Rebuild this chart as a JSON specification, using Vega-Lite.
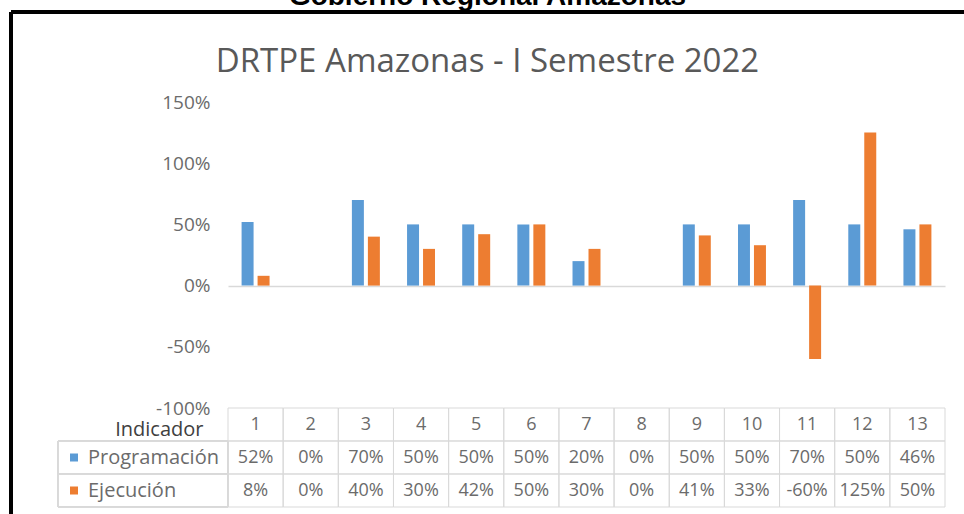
{
  "$schema": "https://vega.github.io/schema/vega-lite/v6.json",
  "width": 953,
  "height": 502,
  "autosize": {"type": "none"},
  "padding": {"left": 11, "top": 12, "right": 0, "bottom": 0},
  "background": "white",
  "title": {
    "text": "Gobierno Regional Amazonas",
    "subtitle": "DRTPE Amazonas - I Semestre 2022",
    "anchor": "middle",
    "frame": "group",
    "font": "Liberation Sans",
    "fontSize": 28,
    "fontWeight": "bold",
    "color": "#000000",
    "subtitleFont": "Open Sans",
    "subtitleFontSize": 33,
    "subtitleColor": "#595959",
    "subtitlePadding": 35,
    "offset": -67
  },
  "config": {
    "view": {"stroke": "#000000", "strokeWidth": 4, "strokeDash": [953, 1455, 502, 0]},
    "locale": {"number": {"decimal": ".", "thousands": ",", "grouping": [3], "currency": ["$", ""], "minus": "-"}},
    "font": "Open Sans"
  },
  "datasets": {
    "d": [
      {"ind": "1", "serie": "Programación", "val": 0.52},
      {"ind": "2", "serie": "Programación", "val": 0},
      {"ind": "3", "serie": "Programación", "val": 0.70},
      {"ind": "4", "serie": "Programación", "val": 0.50},
      {"ind": "5", "serie": "Programación", "val": 0.50},
      {"ind": "6", "serie": "Programación", "val": 0.50},
      {"ind": "7", "serie": "Programación", "val": 0.20},
      {"ind": "8", "serie": "Programación", "val": 0},
      {"ind": "9", "serie": "Programación", "val": 0.50},
      {"ind": "10", "serie": "Programación", "val": 0.50},
      {"ind": "11", "serie": "Programación", "val": 0.70},
      {"ind": "12", "serie": "Programación", "val": 0.50},
      {"ind": "13", "serie": "Programación", "val": 0.46},
      {"ind": "1", "serie": "Ejecución", "val": 0.08},
      {"ind": "2", "serie": "Ejecución", "val": 0},
      {"ind": "3", "serie": "Ejecución", "val": 0.40},
      {"ind": "4", "serie": "Ejecución", "val": 0.30},
      {"ind": "5", "serie": "Ejecución", "val": 0.42},
      {"ind": "6", "serie": "Ejecución", "val": 0.50},
      {"ind": "7", "serie": "Ejecución", "val": 0.30},
      {"ind": "8", "serie": "Ejecución", "val": 0},
      {"ind": "9", "serie": "Ejecución", "val": 0.41},
      {"ind": "10", "serie": "Ejecución", "val": 0.33},
      {"ind": "11", "serie": "Ejecución", "val": -0.60},
      {"ind": "12", "serie": "Ejecución", "val": 1.25},
      {"ind": "13", "serie": "Ejecución", "val": 0.50}
    ]
  },
  "data": {"name": "d"},
  "resolve": {"scale": {"x": "independent", "y": "independent"}},
  "layer": [
    {
      "mark": {"type": "bar"},
      "encoding": {
        "x": {"field": "ind", "type": "ordinal", "scale": {"domain": ["1","2","3","4","5","6","7","8","9","10","11","12","13"], "range": [217, 934], "paddingInner": 0, "paddingOuter": 0}, "axis": null},
        "xOffset": {"field": "serie", "type": "nominal", "scale": {"domain": ["Programación", "Ejecución"], "paddingInner": 0.25, "paddingOuter": 0.85}},
        "y": {
          "field": "val", "type": "quantitative",
          "scale": {"domain": [-1, 1.5], "range": [396, 90], "nice": false},
          "axis": {
            "orient": "left",
            "values": [-1, -0.5, 0, 0.5, 1, 1.5],
            "format": ".0%",
            "title": null,
            "domain": false,
            "ticks": false,
            "tickSize": 0,
            "labelPadding": 0,
            "offset": -199,
            "labelFont": "Open Sans",
            "labelFontSize": 19,
            "labelColor": "#6b6b6b",
            "labelFlush": false,
            "grid": true,
            "gridColor": "#d9d9d9",
            "gridWidth": 1.3,
            "gridOpacity": {"condition": {"test": "datum.value === 0", "value": 1}, "value": 0}
          }
        },
        "color": {
          "field": "serie", "type": "nominal",
          "scale": {"domain": ["Programación", "Ejecución"], "range": ["#5B9BD5", "#ED7D31"]},
          "legend": {
            "orient": "none",
            "legendX": 53,
            "legendY": 429,
            "title": null,
            "direction": "vertical",
            "symbolType": "square",
            "symbolSize": 64,
            "symbolStrokeWidth": 0,
            "clipHeight": 33,
            "rowPadding": 0,
            "padding": 0,
            "labelOffset": 4,
            "labelFont": "Open Sans",
            "labelFontSize": 20,
            "labelColor": "#6b6b6b"
          }
        }
      }
    },
    {
      "layer": [
        {
          "mark": {"type": "rect", "fill": "transparent", "stroke": "#d9d9d9", "strokeWidth": 1},
          "encoding": {
            "x": {"field": "ind", "type": "ordinal", "scale": {"domain": ["1","2","3","4","5","6","7","8","9","10","11","12","13"], "range": [217, 934], "paddingInner": 0, "paddingOuter": 0}, "axis": null},
            "y": {
              "field": "serie", "type": "nominal",
              "scale": {"domain": ["Indicador", "Programación", "Ejecución"], "range": [396, 495], "paddingInner": 0, "paddingOuter": 0},
              "axis": {
                "orient": "left",
                "title": null,
                "labelExpr": "datum.value === 'Indicador' ? 'Indicador' : ''",
                "domain": false,
                "ticks": false,
                "tickSize": 0,
                "grid": false,
                "labelPadding": 0,
                "offset": -192,
                "labelOffset": 5,
                "labelFont": "Open Sans",
                "labelFontSize": 20,
                "labelFontWeight": "normal",
                "labelColor": "#404040"
              }
            }
          }
        },
        {
          "transform": [{"filter": "datum.serie === 'Programación'"}],
          "mark": {"type": "rect", "fill": "transparent", "stroke": "#d9d9d9", "strokeWidth": 1},
          "encoding": {
            "x": {"field": "ind", "type": "ordinal", "axis": null},
            "y": {"datum": "Indicador", "type": "nominal"}
          }
        },
        {
          "mark": {"type": "text", "font": "Open Sans", "fontSize": 18, "color": "#6b6b6b"},
          "encoding": {
            "x": {"field": "ind", "type": "ordinal", "axis": null},
            "y": {"field": "serie", "type": "nominal"},
            "text": {"field": "val", "type": "quantitative", "format": ".0%"}
          }
        },
        {
          "transform": [{"filter": "datum.serie === 'Programación'"}],
          "mark": {"type": "text", "font": "Open Sans", "fontSize": 18, "color": "#6b6b6b"},
          "encoding": {
            "x": {"field": "ind", "type": "ordinal", "axis": null},
            "y": {"datum": "Indicador", "type": "nominal"},
            "text": {"field": "ind", "type": "nominal"}
          }
        }
      ]
    },
    {
      "mark": {"type": "rect", "fill": "transparent", "stroke": "#d9d9d9", "strokeWidth": 1},
      "encoding": {
        "x": {"datum": "lbl", "type": "nominal", "scale": {"domain": ["lbl"], "range": [47, 217], "paddingInner": 0, "paddingOuter": 0}, "axis": null},
        "y": {"field": "serie", "type": "nominal", "scale": {"domain": ["Indicador", "Programación", "Ejecución"], "range": [396, 495], "paddingInner": 0, "paddingOuter": 0}, "axis": null}
      }
    }
  ]
}
